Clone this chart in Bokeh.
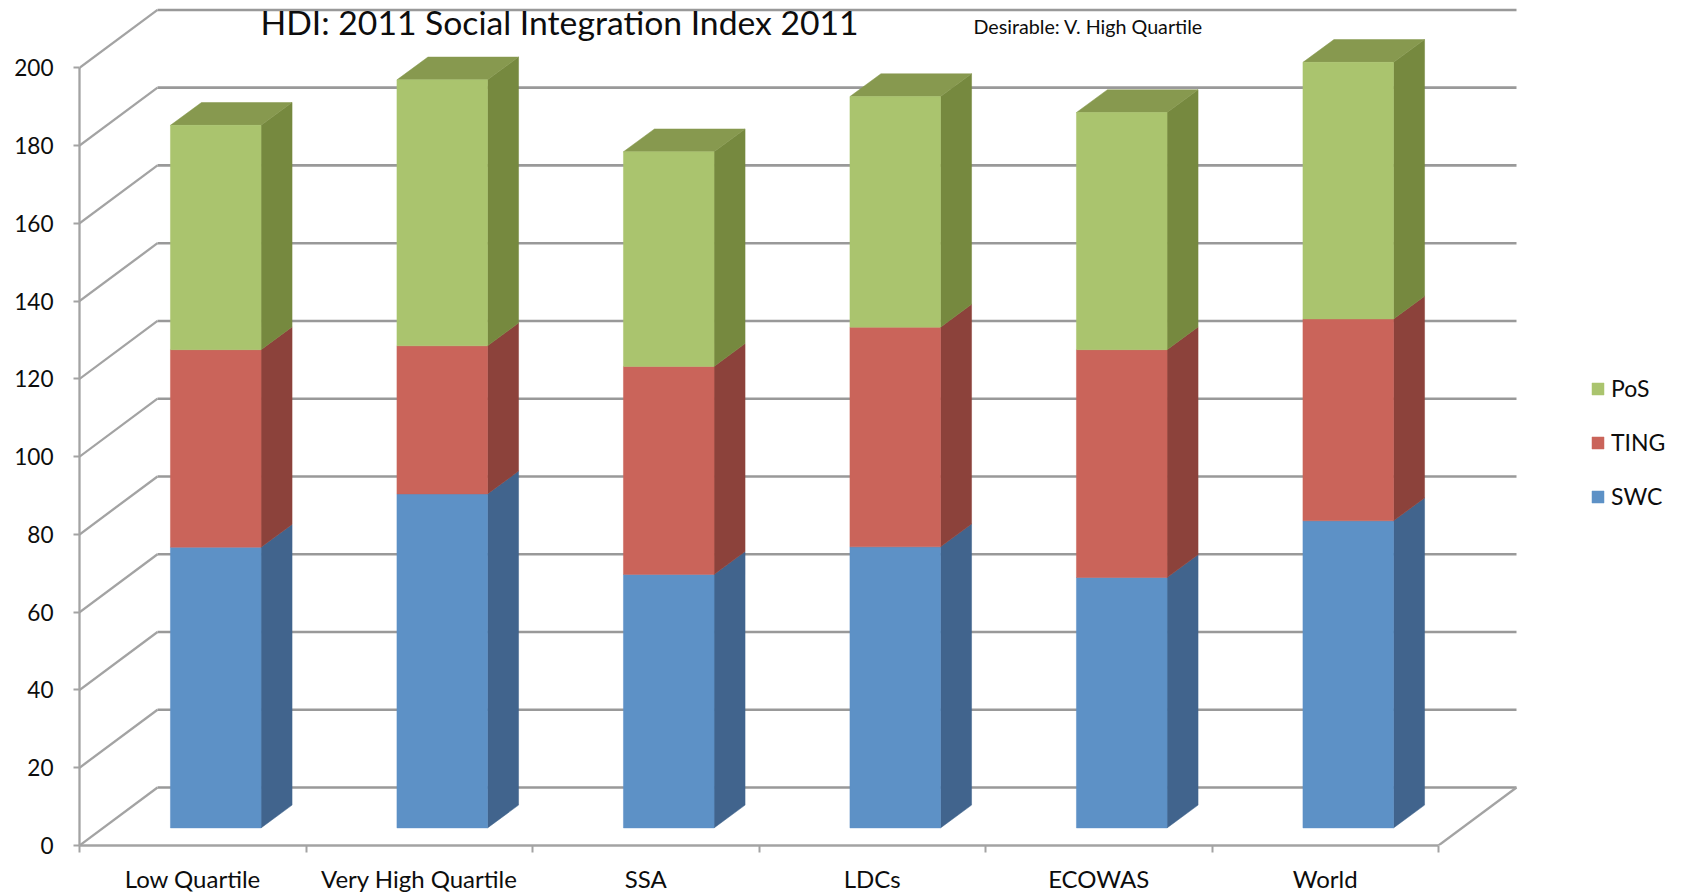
from bokeh.plotting import figure
from bokeh.models import ColumnDataSource, FixedTicker, Label, Legend, LegendItem, Range1d
from bokeh.embed import file_html
from bokeh.resources import INLINE

categories = ["Low Quartile", "Very High Quartile", "SSA", "LDCs", "ECOWAS", "World"]
SWC = [72.2, 85.9, 65.2, 72.3, 64.4, 79.0]
TING = [50.8, 38.1, 53.5, 56.5, 58.6, 51.9]
PoS = [57.7, 68.4, 55.2, 59.3, 61.0, 66.0]
y_ticks = list(range(0, 201, 20))
x_centres = [0.5, 1.5, 2.5, 3.5, 4.5, 5.5]
x_bounds = [0, 1, 2, 3, 4, 5, 6]

PX_X = 226.5
PX_Y = 3.888
FRAME_W, FRAME_H = 1604, 837
BACK_DX, BACK_DY = 78 / PX_X, 58 / PX_Y
BAR_DX, BAR_DY = 23 / PX_X, 17.6 / PX_Y
DEPTH_DX, DEPTH_DY = 31 / PX_X, 22.8 / PX_Y
BAR_W = 0.4
FONT = "Lato"
GRID = "#999999"
GRID_SIDE = "#a3a3a3"
INK = "#0d0d0d"

series = [
    ("SWC", SWC, "#5d91c6", "#41648d", None),
    ("TING", TING, "#ca645a", "#8c423b", None),
    ("PoS", PoS, "#aac46e", "#76893f", "#87994f"),
]

p = figure(frame_width=FRAME_W, frame_height=FRAME_H, output_backend="svg", toolbar_location=None,
           x_range=Range1d(0, FRAME_W / PX_X), y_range=Range1d(0, FRAME_H / PX_Y),
           min_border_left=79, min_border_right=0, min_border_top=8, min_border_bottom=49,
           background_fill_color="white", border_fill_color="white",
           outline_line_color=None)
p.grid.visible = False

# back wall lines and side wall diagonals
bx0, bx1 = BACK_DX, 6 + BACK_DX
p.segment([bx0] * len(y_ticks), [v + BACK_DY for v in y_ticks],
          [bx1] * len(y_ticks), [v + BACK_DY for v in y_ticks],
          line_color=GRID, line_width=2.6)
p.segment([0] * len(y_ticks), y_ticks, [bx0] * len(y_ticks), [v + BACK_DY for v in y_ticks],
          line_color=GRID_SIDE, line_width=2.3)
p.segment([6], [0], [bx1], [BACK_DY], line_color=GRID_SIDE, line_width=2.3)

# stacked bars
bottoms = [0.0] * 6
legend_items = {}
for name, vals, front, side, top in series:
    tops = [b + v for b, v in zip(bottoms, vals)]
    lefts = [c + BAR_DX - BAR_W / 2 for c in x_centres]
    rights = [c + BAR_DX + BAR_W / 2 for c in x_centres]
    ybot = [b + BAR_DY for b in bottoms]
    ytop = [t + BAR_DY for t in tops]
    p.patches([[r, r + DEPTH_DX, r + DEPTH_DX, r] for r in rights],
              [[b, b + DEPTH_DY, t + DEPTH_DY, t] for b, t in zip(ybot, ytop)],
              fill_color=side, line_color=side, line_width=0.5)
    if top:
        p.patches([[l, l + DEPTH_DX, r + DEPTH_DX, r] for l, r in zip(lefts, rights)],
                  [[t, t + DEPTH_DY, t + DEPTH_DY, t] for t in ytop],
                  fill_color=top, line_color=top, line_width=0.5)
    src = ColumnDataSource(dict(x=[c + BAR_DX for c in x_centres], bottom=ybot, top=ytop))
    legend_items[name] = p.vbar(x="x", width=BAR_W, bottom="bottom", top="top", source=src,
                                fill_color=front, line_color=front, line_width=0.5)
    bottoms = tops

# axes
ya = p.yaxis[0]
ya.ticker = FixedTicker(ticks=y_ticks)
ya.bounds = (0, 200)
ya.axis_line_color = GRID_SIDE
ya.axis_line_width = 2.3
ya.major_tick_line_color = GRID_SIDE
ya.major_tick_line_width = 2
ya.major_tick_out = 6
ya.major_tick_in = 0
ya.minor_tick_line_color = None
ya.major_label_text_font = FONT
ya.major_label_text_font_size = "22.6px"
ya.major_label_text_color = INK
ya.major_label_standoff = 20

xa = p.xaxis[0]
xa.ticker = FixedTicker(ticks=x_centres, minor_ticks=x_bounds)
xa.bounds = (0, 6)
xa.major_label_overrides = {c: n for c, n in zip(x_centres, categories)}
xa.axis_line_color = GRID_SIDE
xa.axis_line_width = 2.3
xa.major_tick_line_color = None
xa.minor_tick_line_color = GRID_SIDE
xa.minor_tick_line_width = 2
xa.minor_tick_out = 7
xa.minor_tick_in = 0
xa.major_label_text_font = FONT
xa.major_label_text_font_size = "24px"
xa.major_label_text_color = INK
xa.major_label_standoff = 11

# title and note
p.add_layout(Label(x=(260 - 79) / PX_X, y=(845.3 - 22) / PX_Y, text="HDI: 2011 Social Integration Index 2011",
                   text_font=FONT, text_font_size="33.7px", text_color=INK, text_baseline="middle"))
p.add_layout(Label(x=(973 - 79) / PX_X, y=(845.3 - 26.5) / PX_Y, text="Desirable: V. High Quartile",
                   text_font=FONT, text_font_size="19.7px", text_color=INK, text_baseline="middle"))

legend = Legend(items=[LegendItem(label=n, renderers=[legend_items[n]]) for n in ["PoS", "TING", "SWC"]],
                location=(1511, 335), orientation="vertical", padding=0, margin=0, spacing=26,
                glyph_width=15, glyph_height=15, label_standoff=6, label_height=15,
                border_line_color=None, background_fill_alpha=0,
                label_text_font=FONT, label_text_font_size="23px", label_text_color=INK)
p.add_layout(legend)

open("out.html", "w").write(file_html(p, INLINE))
